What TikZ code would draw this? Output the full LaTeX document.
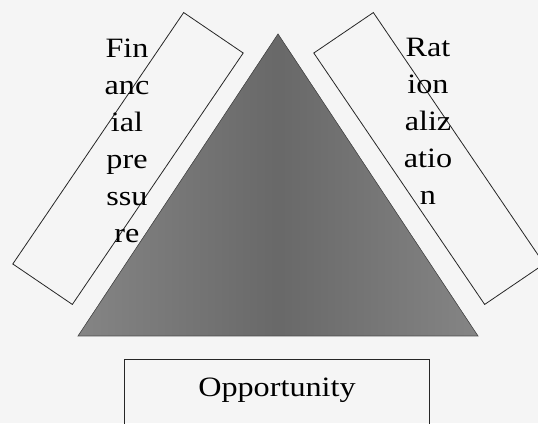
\documentclass[tikz,border=0pt]{standalone}
\usepackage{fontspec}
\setmainfont{Liberation Serif}[FakeStretch=1.15]

\begin{document}
\begin{tikzpicture}[x=1pt,y=1pt,
 frame/.style={draw=black!85,line width=0.8pt,inner sep=0pt},
 lab/.style={align=center,inner sep=0pt,font=\fontsize{28}{37}\selectfont},
 tri/.style={draw=black!70,line width=0.6pt,left color=black!48,right color=black!48,middle color=black!59}]
\fill[black!4] (0,0) rectangle (538,423);
\useasboundingbox (0,0) rectangle (538,423);
\clip (0,0) rectangle (538,423);
\coordinate (apex) at (278,389);
\coordinate (bl) at (78,87);
\coordinate (br) at (478,87);
\filldraw[tri] (bl) -- (apex) -- (br) -- cycle;
\node[frame,minimum width=304,minimum height=72,rotate=55.8] (fp) at (128,264.5) {};
\node[frame,minimum width=304,minimum height=72,rotate=-55.8] (ra) at (429,264.5) {};
\node[frame,minimum width=305,minimum height=90,anchor=north] (op) at (276.5,64) {};
\node[lab] (fptext) at (127,282.5) {Fin\\anc\\ial\\pre\\ssu\\re};
\node[lab] (ratext) at (428,302) {Rat\\ion\\aliz\\atio\\n};
\node[lab] (optext) at (277,33) {Opportunity};
\end{tikzpicture}
\end{document}
